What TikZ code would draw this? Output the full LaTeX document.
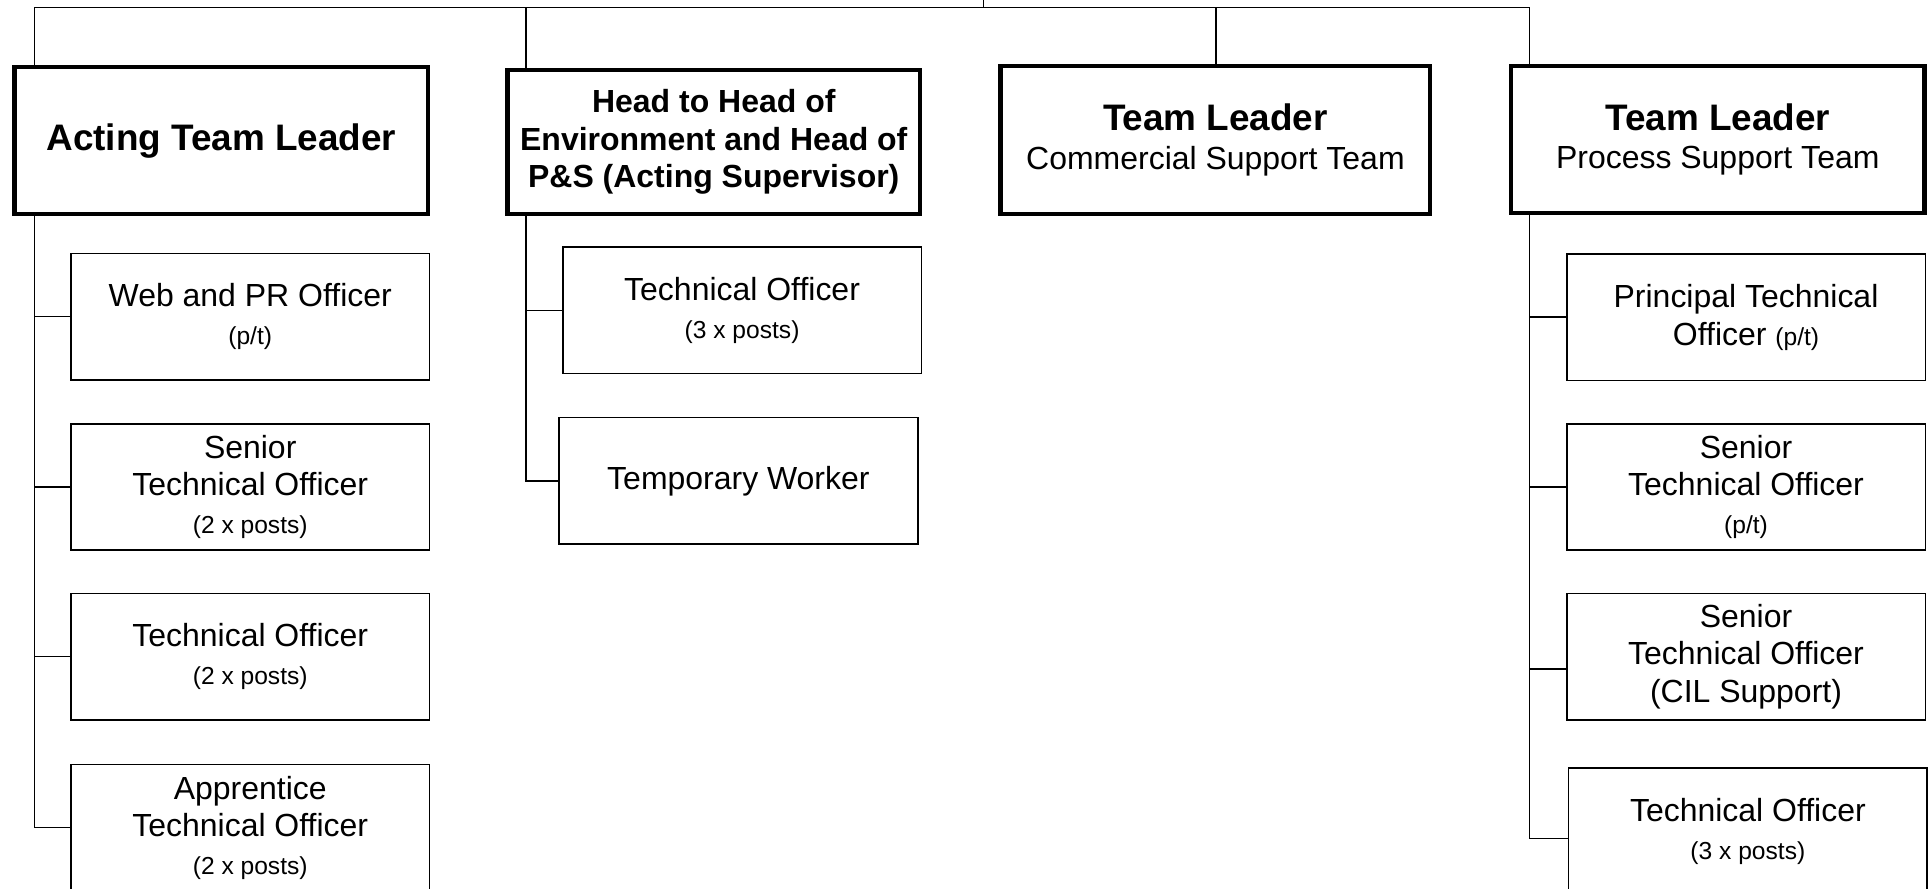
\documentclass[tikz,border=0pt]{standalone}
\usepackage{fontspec}
\setmainfont{Liberation Sans}
\newcommand\fbig{\fontsize{30}{34}\selectfont\bfseries}
\newcommand\fmain{\fontsize{26}{30.5}\selectfont}
\newcommand\fsml{\fontsize{20}{24}\selectfont}
\begin{document}
\begin{tikzpicture}[x=1pt,y=-1pt,
  boss/.style={draw, line width=3.5pt, align=center, inner sep=0pt},
  post/.style={draw, line width=1.4pt, align=center, inner sep=0pt,
    minimum width=291.7pt, minimum height=102.7pt, font=\fmain},
  link/.style={line width=1.3pt}]
\clip (0,0) rectangle (1568,723);
\fill[white] (0,0) rectangle (1568,723);

% leaders
\node[boss, minimum width=336.5pt, minimum height=119.5pt, font=\fbig] (p1) at (180,114.5) {Acting Team Leader};
\node[boss, minimum width=335.5pt, minimum height=117.5pt, font=\fmain\bfseries] (p2) at (580.5,115.5)
  {Head to Head of\\Environment and Head of\\P\&S (Acting Supervisor)};
\node[boss, minimum width=349.5pt, minimum height=120.5pt, font=\fmain] (p3) at (988.5,114)
  {{\fbig Team Leader}\\[1pt]Commercial Support Team};
\node[boss, minimum width=336.5pt, minimum height=119.5pt, font=\fmain] (p4) at (1397,113.5)
  {{\fbig Team Leader}\\[1pt]Process Support Team};

% left column
\node[post] (c11) at (203.5,257.5) {Web and PR Officer\\{\fsml (p/t)}};
\node[post] (c12) at (203.5,396) {Senior\\Technical Officer\\{\fsml (2 x posts)}};
\node[post] (c13) at (203.5,534) {Technical Officer\\{\fsml (2 x posts)}};
\node[post] (c14) at (203.5,673) {Apprentice\\Technical Officer\\{\fsml (2 x posts)}};

% middle column
\node[post] (c21) at (603.5,252.5) {Technical Officer\\{\fsml (3 x posts)}};
\node[post] (c22) at (600.5,391) {Temporary Worker};

% right column
\node[post] (c41) at (1420,258) {Principal Technical\\Officer {\fsml (p/t)}};
\node[post] (c42) at (1420,396) {Senior\\Technical Officer\\{\fsml (p/t)}};
\node[post] (c43) at (1420,534) {Senior\\Technical Officer\\(CIL Support)};
\node[post] (c44) at (1421.5,676) {Technical Officer\\{\fsml (3 x posts)}};

% bus
\coordinate (root) at (800,0);
\coordinate (bm) at (800,6);
\coordinate (b1) at (28,6);
\coordinate (b2) at (428,6);
\coordinate (b3) at (989,6);
\coordinate (b4) at (1244,6);
\draw[link] (root) -- (bm);
\draw[link] (b1) -- (b4);
\draw[link] (b1) -- (b1 |- p1.north);
\draw[link] (b2) -- (b2 |- p2.north);
\draw[link] (b3) -- (b3 |- p3.north);
\draw[link] (b4) -- (b4 |- p4.north);

% left spine
\draw[link] (b1 |- p1.south) -- (b1 |- c14.west) -- (c14.west);
\foreach \c in {c11,c12,c13} \draw[link] (b1 |- \c.west) -- (\c.west);

% middle spine
\draw[link] (b2 |- p2.south) -- (b2 |- c22.west) -- (c22.west);
\draw[link] (b2 |- c21.west) -- (c21.west);

% right spine
\coordinate (k43) at ([yshift=-10pt]c43.west);
\coordinate (k44) at ([yshift=-6pt]c44.west);
\draw[link] (b4 |- p4.south) -- (b4 |- k44) -- (k44);
\draw[link] (b4 |- c41.west) -- (c41.west);
\draw[link] (b4 |- c42.west) -- (c42.west);
\draw[link] (b4 |- k43) -- (k43);
\end{tikzpicture}
\end{document}
